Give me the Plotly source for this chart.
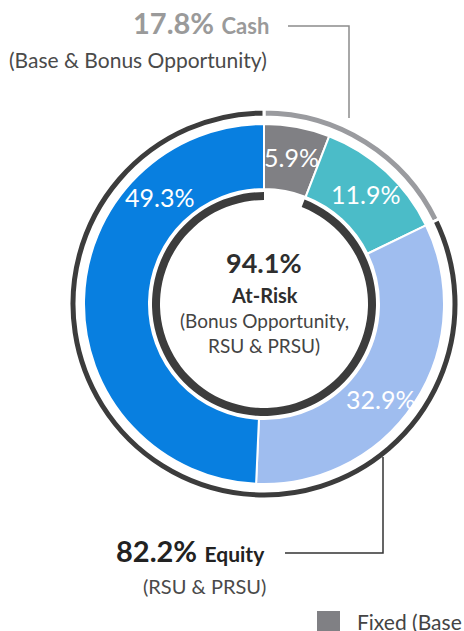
import math
import plotly.graph_objects as go

# ---------------- data ----------------
seg_labels = ["Fixed (Base Salary)", "Bonus Opportunity", "PRSU", "RSU"]
seg_values = [5.9, 11.9, 32.9, 49.3]
outer_labels = ["Cash", "Equity"]
outer_values = [17.8, 82.2]
inner_labels = ["Fixed", "At-Risk"]
inner_values = [5.9, 94.1]

W, H = 464, 631
CX, CY = 264, 304          # pixel centre (from top-left)
R_OUT, R_DON, R_IN = 195, 180, 112

seg_colors = ["#808084", "#4bbcc8", "#9fbdef", "#087fe0"]
outer_colors = ["#9a9b9f", "#3c3c3c"]
inner_colors = ["rgba(0,0,0,0)", "#3c3c3c"]


def xp(x):
    return x / W


def yp(y):
    return 1 - y / H


def dom(r):
    return dict(x=[xp(CX - r), xp(CX + r)], y=[yp(CY + r), yp(CY - r)])


fig = go.Figure()
fig.add_trace(go.Pie(labels=outer_labels, values=outer_values, hole=187 / 195,
                     sort=False, direction="clockwise", rotation=0,
                     marker=dict(colors=outer_colors, line=dict(color="white", width=3)),
                     textinfo="none", hoverinfo="skip", showlegend=False, domain=dom(R_OUT)))
fig.add_trace(go.Pie(labels=seg_labels, values=seg_values, hole=115 / 180,
                     sort=False, direction="clockwise", rotation=0,
                     marker=dict(colors=seg_colors, line=dict(color="white", width=2)),
                     textinfo="none", hoverinfo="skip", showlegend=False, domain=dom(R_DON)))
fig.add_trace(go.Pie(labels=inner_labels, values=inner_values, hole=104 / 112,
                     sort=False, direction="clockwise", rotation=0,
                     marker=dict(colors=inner_colors, line=dict(color="white", width=0)),
                     textinfo="none", hoverinfo="skip", showlegend=False, domain=dom(R_IN)))

ann = []
# slice labels, placed along each slice's arc
label_frac = [0.5, 0.5, 0.55, 0.75]
total = sum(seg_values)
cum = 0
r_lab = 150
for v, f in zip(seg_values, label_frac):
    theta = (cum + v * f) / total * 2 * math.pi
    x = CX + r_lab * math.sin(theta)
    y = CY - r_lab * math.cos(theta)
    ann.append(dict(x=xp(x), y=yp(y), text=f"{v:.1f}%", showarrow=False,
                    font=dict(family="Lato", size=25, color="white"),
                    xanchor="center", yanchor="middle"))
    cum += v

FONT = "Lato"
# centre text
ann.append(dict(x=xp(CX), y=yp(263), text=f"<b>{inner_values[1]:.1f}%</b>", showarrow=False,
                font=dict(family=FONT, size=27, color="#2e2e2e"), xanchor="center", yanchor="middle"))
ann.append(dict(x=xp(CX), y=yp(295), text="<b>At-Risk</b>", showarrow=False,
                font=dict(family=FONT, size=20, color="#2e2e2e"), xanchor="center", yanchor="middle"))
ann.append(dict(x=xp(CX), y=yp(320), text="(Bonus Opportunity,", showarrow=False,
                font=dict(family=FONT, size=19, color="#444444"), xanchor="center", yanchor="middle"))
ann.append(dict(x=xp(CX), y=yp(345), text="RSU &amp; PRSU)", showarrow=False,
                font=dict(family=FONT, size=19, color="#444444"), xanchor="center", yanchor="middle"))

# cash label
ann.append(dict(x=xp(271), y=yp(23),
                text=f"<b>{outer_values[0]:.1f}%</b> <b><span style='font-size:22px'>Cash</span></b>",
                showarrow=False, font=dict(family=FONT, size=29, color="#9a9a9a"),
                xanchor="right", yanchor="middle"))
ann.append(dict(x=xp(269), y=yp(60), text="(Base &amp; Bonus Opportunity)", showarrow=False,
                font=dict(family=FONT, size=21, color="#4a4a4a"), xanchor="right", yanchor="middle"))
# equity label
ann.append(dict(x=xp(267), y=yp(550),
                text=f"<b>{outer_values[1]:.1f}%</b> <b><span style='font-size:21px'>Equity</span></b>",
                showarrow=False, font=dict(family=FONT, size=29, color="#222222"),
                xanchor="right", yanchor="middle"))
ann.append(dict(x=xp(268), y=yp(586), text="(RSU &amp; PRSU)", showarrow=False,
                font=dict(family=FONT, size=20, color="#4a4a4a"), xanchor="right", yanchor="middle"))
# legend-like item (clipped at the right edge as in the original)
ann.append(dict(x=xp(355), y=yp(621), text=seg_labels[0], showarrow=False,
                font=dict(family=FONT, size=21, color="#444444"), xanchor="left", yanchor="middle"))

shapes = [
    dict(type="path", xref="paper", yref="paper",
         path=f"M {xp(288)} {yp(26)} L {xp(349)} {yp(26)} L {xp(349)} {yp(118)}",
         line=dict(color="#8c8c8c", width=1.5)),
    dict(type="path", xref="paper", yref="paper",
         path=f"M {xp(285)} {yp(553)} L {xp(383)} {yp(553)} L {xp(383)} {yp(457)}",
         line=dict(color="#333333", width=1.5)),
    dict(type="rect", xref="paper", yref="paper",
         x0=xp(317), x1=xp(340), y0=yp(633), y1=yp(611),
         fillcolor=seg_colors[0], line=dict(width=0)),
]

fig.update_layout(width=W, height=H, margin=dict(l=0, r=0, t=0, b=0),
                  paper_bgcolor="white", plot_bgcolor="white",
                  annotations=ann, shapes=shapes, showlegend=False)

fig.write_html("out.html", config={"displayModeBar": False},
               post_script="document.body.style.margin='0';")
